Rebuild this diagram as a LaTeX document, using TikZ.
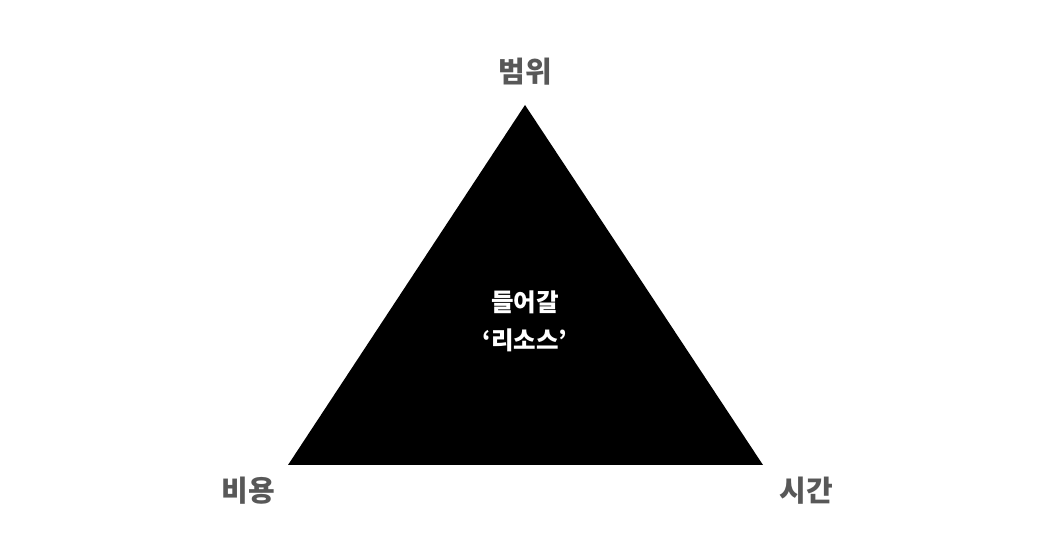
\documentclass[tikz,border=0pt]{standalone}
\usepackage{fontspec}
\usepackage{xcolor}
\usetikzlibrary{positioning}
\newfontfamily\krfont{Noto Sans CJK KR}
\definecolor{labelgray}{HTML}{585858}

\begin{document}
\begin{tikzpicture}[x=1pt, y=1pt,
  corner/.style={font=\krfont\bfseries\fontsize{29}{34}\selectfont, text=labelgray}]
\useasboundingbox (0,0) rectangle (1061,553);

\coordinate (top) at (525,448);
\coordinate (left) at (288,88);
\coordinate (right) at (763,88);

\fill[black] (top) -- (left) -- (right) -- cycle;

\node[corner] (scope) at (525,481) {범위};
\node[corner] (cost) at (248,62) {비용};
\node[corner] (time) at (806,62) {시간};

\node[align=center, text=white, font=\krfont\bfseries\fontsize{24.5}{38}\selectfont] (resource) at (525,232) {들어갈\\‘리소스’};
\end{tikzpicture}
\end{document}
